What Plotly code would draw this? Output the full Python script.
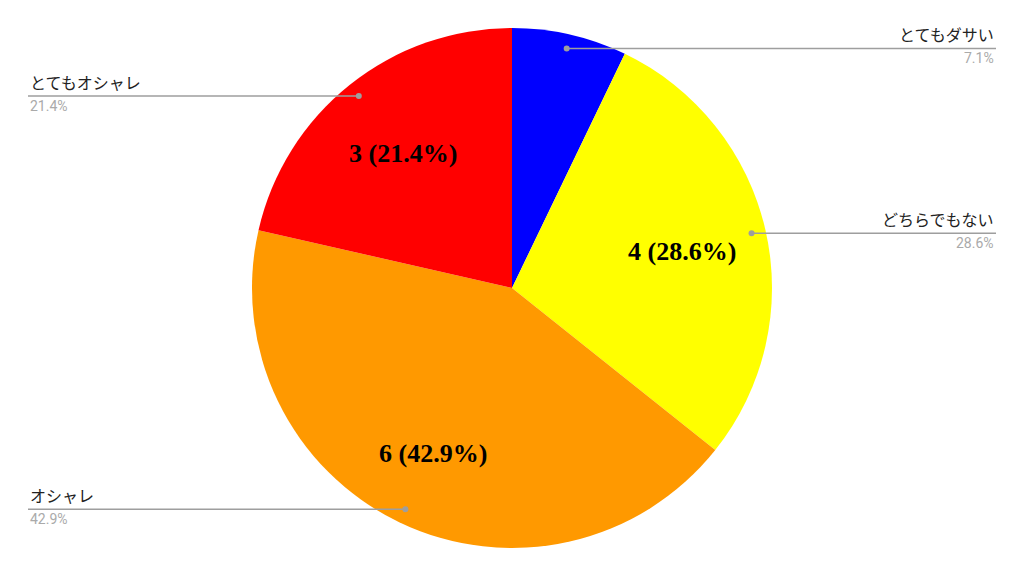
import math
import plotly.graph_objects as go

labels = ["とてもダサい", "どちらでもない", "オシャレ", "とてもオシャレ"]
values = [1, 4, 6, 3]
colors = ["#0000ff", "#ffff00", "#ff9900", "#ff0000"]

W, H = 1024, 577
CX, CY, R = 512, 288, 260
LEFT_EDGE, RIGHT_EDGE = 28, 996


def px(x):
    return x / W


def py(y):
    return 1 - y / H


fig = go.Figure()
fig.add_trace(go.Pie(
    labels=labels, values=values, sort=False, direction="clockwise", rotation=0,
    marker=dict(colors=colors, line=dict(width=0)),
    textinfo="none", showlegend=False, hole=0,
    domain=dict(x=[px(CX - R), px(CX + R)], y=[py(CY + R), py(CY - R)]),
))

total = sum(values)
cum = 0
shapes, annotations = [], []
for lab, v in zip(labels, values):
    pct = v / total * 100
    frac_mid = (cum + v / 2) / total
    mid = math.radians(frac_mid * 360)
    cum += v
    s, c = math.sin(mid), math.cos(mid)
    dx_, dy_ = CX + 0.945 * R * s, CY - 0.945 * R * c
    right = s > 0
    edge = RIGHT_EDGE if right else LEFT_EDGE
    shapes.append(dict(type="line", xref="paper", yref="paper",
                       x0=px(dx_), x1=px(edge), y0=py(dy_), y1=py(dy_),
                       line=dict(color="#9e9e9e", width=1.5)))
    shapes.append(dict(type="circle", xref="paper", yref="paper",
                       x0=px(dx_ - 3), x1=px(dx_ + 3), y0=py(dy_ + 3), y1=py(dy_ - 3),
                       fillcolor="#9e9e9e", line=dict(width=0)))
    anchor = "right" if right else "left"
    annotations.append(dict(xref="paper", yref="paper", x=px(edge), y=py(dy_),
                            text=lab, showarrow=False, xanchor=anchor, yanchor="bottom",
                            font=dict(family="Noto Sans CJK JP", size=16, color="#222222")))
    annotations.append(dict(xref="paper", yref="paper", x=px(edge), y=py(dy_),
                            text=f"{pct:.1f}%", showarrow=False, xanchor=anchor, yanchor="top",
                            font=dict(family="Roboto", size=14, color="#aaaaaa")))
    if pct > 10:
        rr = 0.70 if pct > 40 else 0.67
        ix, iy = CX + rr * R * s, CY - rr * R * c + 2
        annotations.append(dict(xref="paper", yref="paper", x=px(ix), y=py(iy),
                                text=f"<b>{v} ({pct:.1f}%)</b>", showarrow=False,
                                xanchor="center", yanchor="middle",
                                font=dict(family="Liberation Serif", size=26, color="#000000")))

fig.update_layout(width=W, height=H, margin=dict(l=0, r=0, t=0, b=0),
                  paper_bgcolor="white", plot_bgcolor="white",
                  shapes=shapes, annotations=annotations)
fig.write_html("out.html", config={"displayModeBar": False},
               post_script="document.body.style.margin='0';")
